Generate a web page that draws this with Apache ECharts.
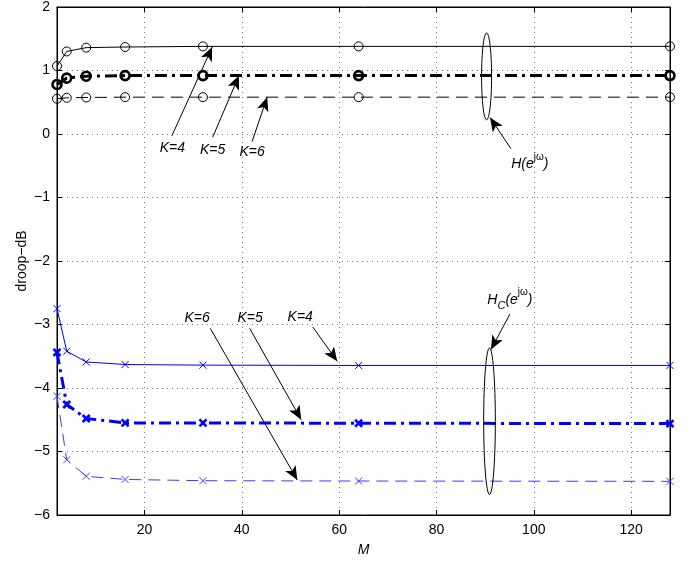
<!DOCTYPE html>
<html><head><meta charset="utf-8">
<script src="https://cdn.jsdelivr.net/npm/echarts@6/dist/echarts.min.js"></script>
<style>html,body{margin:0;padding:0;background:#fff}#c{width:692px;height:562px}</style>
</head><body><div id="c"></div>
<script>
// ---- data ----
const M = [2, 4, 8, 16, 32, 64, 128];
const H_K4 = [1.07, 1.30, 1.36, 1.37, 1.38, 1.38, 1.38];
const H_K5 = [0.78, 0.88, 0.91, 0.92, 0.92, 0.92, 0.92];
const H_K6 = [0.555, 0.57, 0.575, 0.58, 0.58, 0.58, 0.58];
const HC_K4 = [-2.75, -3.42, -3.59, -3.63, -3.64, -3.645, -3.645];
const HC_K5 = [-3.44, -4.26, -4.48, -4.55, -4.55, -4.555, -4.56];
const HC_K6 = [-4.13, -5.13, -5.39, -5.44, -5.46, -5.465, -5.47];
const xTicks = [20, 40, 60, 80, 100, 120];
const yTicks = [-6, -5, -4, -3, -2, -1, 0, 1, 2];

// annotation anchors in data units
const labelText = ['K=4', 'K=5', 'K=6', 'K=6', 'K=5', 'K=4'];
const labelX = [25.7, 34.0, 42.1, 30.8, 41.7, 52.0];
const labelY = [-0.22, -0.25, -0.28, -2.90, -2.90, -2.89];
const arrowFrom = [[25.6, -0.03], [34.0, -0.05], [42.1, -0.12], [95.3, -0.23], [95.1, -2.835], [33.5, -3.06], [41.6, -3.06], [54.6, -3.04]];
const arrowTo = [[33.9, 1.37], [39.4, 0.92], [45.2, 0.58], [91.0, 0.26], [91.2, -3.395], [51.4, -5.45], [52.2, -4.5], [59.6, -3.58]];
const ellipses = [[90.3, 0.907, 1.03, 0.684], [90.9, -4.523, 1.2, 1.154]];
const mathLabels = [[99.2, -0.48, 'H'], [95.1, -2.61, 'HC']];

const FONT = 'Liberation Sans, Arial, Helvetica, sans-serif';
const FS = 14;
const pairs = ys => M.map((m, i) => [m, ys[i]]);
const crossPath = 'path://M0,0L10,10M10,0L0,10';

function lineSeries(name, ys, color, width, dash, symbol, symSize, symBorder) {
  return {
    name, type: 'line', data: pairs(ys), xAxisIndex: 0, yAxisIndex: 0,
    symbol, symbolSize: symSize, showSymbol: true,
    lineStyle: { color, width, type: dash },
    itemStyle: { color: 'rgba(0,0,0,0)', borderColor: color, borderWidth: symBorder },
    emphasis: { disabled: true }, silent: true, z: 3
  };
}

const series = [
  lineSeries('H K=4', H_K4, '#000', 1, 'solid', 'circle', 9, 1),
  lineSeries('H K=5', H_K5, '#000', 3, [12, 5, 3, 5], 'circle', 9, 2.6),
  lineSeries('H K=6', H_K6, '#000', 1, [12, 7], 'circle', 9, 1),
  lineSeries('HC K=4', HC_K4, '#0000ff', 1, 'solid', crossPath, 7, 1),
  lineSeries('HC K=5', HC_K5, '#0000ff', 3, [12, 5, 3, 5], crossPath, 7, 2.6),
  lineSeries('HC K=6', HC_K6, '#3a3aff', 1, [12, 7], crossPath, 7, 1)
];

series[0].markLine = {
  silent: true, animation: false,
  symbol: ['none', 'arrow'], symbolSize: [0, 12],
  label: { show: false },
  lineStyle: { color: '#000', width: 1, type: 'solid' },
  emphasis: { disabled: true },
  data: arrowFrom.map((f, i) => [
    { coord: f, symbol: 'none' },
    { coord: arrowTo[i], symbol: 'arrow', symbolSize: [9, 14] }
  ])
};

// ellipses
series.push({
  type: 'custom', silent: true, z: 5,
  data: ellipses,
  renderItem: function (params, api) {
    const c = api.coord([api.value(0), api.value(1)]);
    const e = api.coord([api.value(0) + api.value(2), api.value(1) + api.value(3)]);
    return {
      type: 'ellipse',
      shape: { cx: c[0], cy: c[1], rx: Math.abs(e[0] - c[0]), ry: Math.abs(e[1] - c[1]) },
      style: { fill: 'none', stroke: '#000', lineWidth: 1 }
    };
  }
});
// K labels
series.push({
  type: 'custom', silent: true, z: 6,
  data: labelX.map((x, i) => [x, labelY[i], i]),
  renderItem: function (params, api) {
    const c = api.coord([api.value(0), api.value(1)]);
    return {
      type: 'text', x: c[0], y: c[1],
      style: { text: labelText[api.value(2)], font: 'italic ' + FS + 'px ' + FONT, fill: '#000', align: 'center', verticalAlign: 'middle' }
    };
  }
});
// H(e^jw) labels
series.push({
  type: 'custom', silent: true, z: 6,
  data: mathLabels.map((d, i) => [d[0], d[1], i]),
  renderItem: function (params, api) {
    const c = api.coord([api.value(0), api.value(1)]);
    const kind = mathLabels[api.value(2)][2];
    const txt = kind === 'H' ? '{i|H(e}{s|jω}{i|)}' : '{i|H}{b|C}{i|(e}{s|jω}{i|)}';
    return {
      type: 'text', x: c[0], y: c[1],
      style: {
        text: txt, align: 'center', verticalAlign: 'middle', fill: '#000',
        rich: {
          i: { fontFamily: FONT, fontStyle: 'italic', fontSize: FS, lineHeight: 24, verticalAlign: 'middle' },
          s: { fontFamily: FONT, fontSize: 10, lineHeight: 10, verticalAlign: 'top' },
          b: { fontFamily: FONT, fontStyle: 'italic', fontSize: 11, lineHeight: 10, verticalAlign: 'bottom' }
        }
      }
    };
  }
});

const axisText = { color: '#000', fontFamily: FONT, fontSize: FS };
const minusFmt = v => String(v).replace('-', '\u2212');

const option = {
  animation: false,
  backgroundColor: '#fff',
  grid: { left: 57, right: 22, top: 6, bottom: 41, show: true, borderColor: '#000', borderWidth: 1 },
  xAxis: [{
    type: 'value', min: 2, max: 128, position: 'bottom',
    name: 'M', nameLocation: 'middle', nameGap: 28,
    nameTextStyle: { color: '#000', fontFamily: FONT, fontSize: FS, fontStyle: 'italic' },
    axisLine: { show: true, onZero: false, lineStyle: { color: '#000', width: 1 } },
    axisTick: { show: true, inside: true, length: 5, customValues: xTicks, lineStyle: { color: '#000' } },
    axisLabel: Object.assign({ margin: 8, customValues: xTicks }, axisText),
    splitLine: { show: true, lineStyle: { color: '#777', type: [1, 4], width: 1 } }
  }, {
    type: 'value', min: 2, max: 128, position: 'top',
    axisLine: { show: true, onZero: false, lineStyle: { color: '#000' } },
    axisTick: { show: true, inside: true, length: 5, customValues: xTicks, lineStyle: { color: '#000' } },
    axisLabel: { show: false }, splitLine: { show: false }
  }],
  yAxis: [{
    type: 'value', min: -6, max: 2, interval: 1, position: 'left',
    name: 'droop\u2212dB', nameLocation: 'middle', nameGap: 28, nameMoveOverlap: false,
    nameTextStyle: { color: '#000', fontFamily: FONT, fontSize: FS },
    axisLine: { show: true, onZero: false, lineStyle: { color: '#000' } },
    axisTick: { show: true, inside: true, length: 5, lineStyle: { color: '#000' } },
    axisLabel: Object.assign({ margin: 7, formatter: minusFmt }, axisText),
    splitLine: { show: true, lineStyle: { color: '#777', type: [1, 4], width: 1 } }
  }, {
    type: 'value', min: -6, max: 2, interval: 1, position: 'right',
    axisLine: { show: true, onZero: false, lineStyle: { color: '#000' } },
    axisTick: { show: true, inside: true, length: 5, lineStyle: { color: '#000' } },
    axisLabel: { show: false }, splitLine: { show: false }
  }],
  series
};
const chart = echarts.init(document.getElementById('c'), null, { renderer: 'canvas' });
chart.setOption(option);
</script></body></html>
